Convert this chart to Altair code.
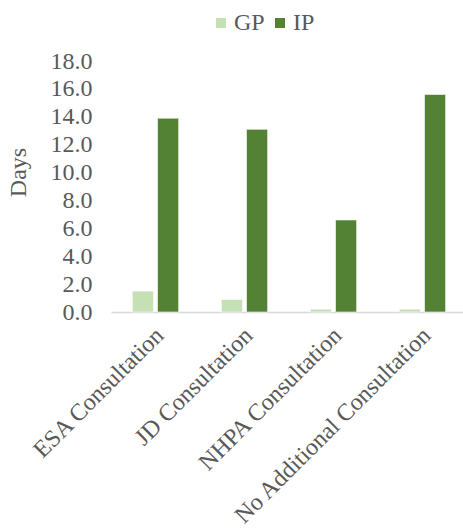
import altair as alt
import pandas as pd

# Average days by consultation type, for GP and IP
categories = ["ESA Consultation", "JD Consultation", "NHPA Consultation", "No Additional Consultation"]
gp_days = [1.5, 0.9, 0.2, 0.2]
ip_days = [13.9, 13.1, 6.6, 15.6]
series = ["GP", "IP"]
y_ticks = [0, 2, 4, 6, 8, 10, 12, 14, 16, 18]

rows = []
for cat, g, i in zip(categories, gp_days, ip_days):
    rows.append({"Category": cat, "Type": "GP", "Days": g})
    rows.append({"Category": cat, "Type": "IP", "Days": i})
df = pd.DataFrame(rows)

FONT = "Liberation Serif"
TEXT = "#595959"
SIZE = 24

chart = alt.Chart(df).mark_bar(stroke="#ffffff", strokeWidth=0.6).encode(
    x=alt.X(
        "Category:N",
        sort=categories,
        title=None,
        scale=alt.Scale(range=[0, 356], paddingInner=0.48, paddingOuter=0.24),
        axis=alt.Axis(
            labelAngle=-45,
            labelFont=FONT,
            labelFontSize=SIZE,
            labelColor=TEXT,
            labelPadding=11,
            labelOffset=-4,
            ticks=False,
            domainColor="#d9d9d9",
            domainWidth=1.5,
            labelLimit=400,
        ),
    ),
    xOffset=alt.XOffset("Type:N", sort=series, scale=alt.Scale(paddingInner=0.16, paddingOuter=0)),
    y=alt.Y(
        "Days:Q",
        title="Days",
        scale=alt.Scale(domain=[0, 18], nice=False),
        axis=alt.Axis(
            values=y_ticks,
            format=".1f",
            labelFont=FONT,
            labelFontSize=SIZE,
            labelColor=TEXT,
            labelPadding=19,
            ticks=False,
            domain=False,
            grid=False,
            titleFont=FONT,
            titleFontSize=SIZE,
            titleFontWeight="normal",
            titleColor=TEXT,
            titleAngle=-90,
            titleX=-93,
            titleY=111,
            titleAlign="center",
            titleBaseline="middle",
        ),
    ),
    color=alt.Color(
        "Type:N",
        sort=series,
        scale=alt.Scale(domain=series, range=["#c5e0b4", "#548235"]),
        legend=alt.Legend(
            title=None,
            orient="none",
            direction="horizontal",
            legendX=98,
            legendY=-50,
            symbolType="square",
            symbolSize=100,
            symbolStrokeWidth=0,
            labelFont=FONT,
            labelFontSize=SIZE,
            labelColor=TEXT,
            labelOffset=1,
            columnPadding=3,
            padding=0,
        ),
    ),
).properties(
    width=352,
    height=251,
    autosize=alt.AutoSizeParams(type="none"),
    padding={"left": 111, "top": 61, "right": 0, "bottom": 217},
).configure_view(stroke=None)

chart.save("out.html", embed_options={"renderer": "svg", "actions": False})
